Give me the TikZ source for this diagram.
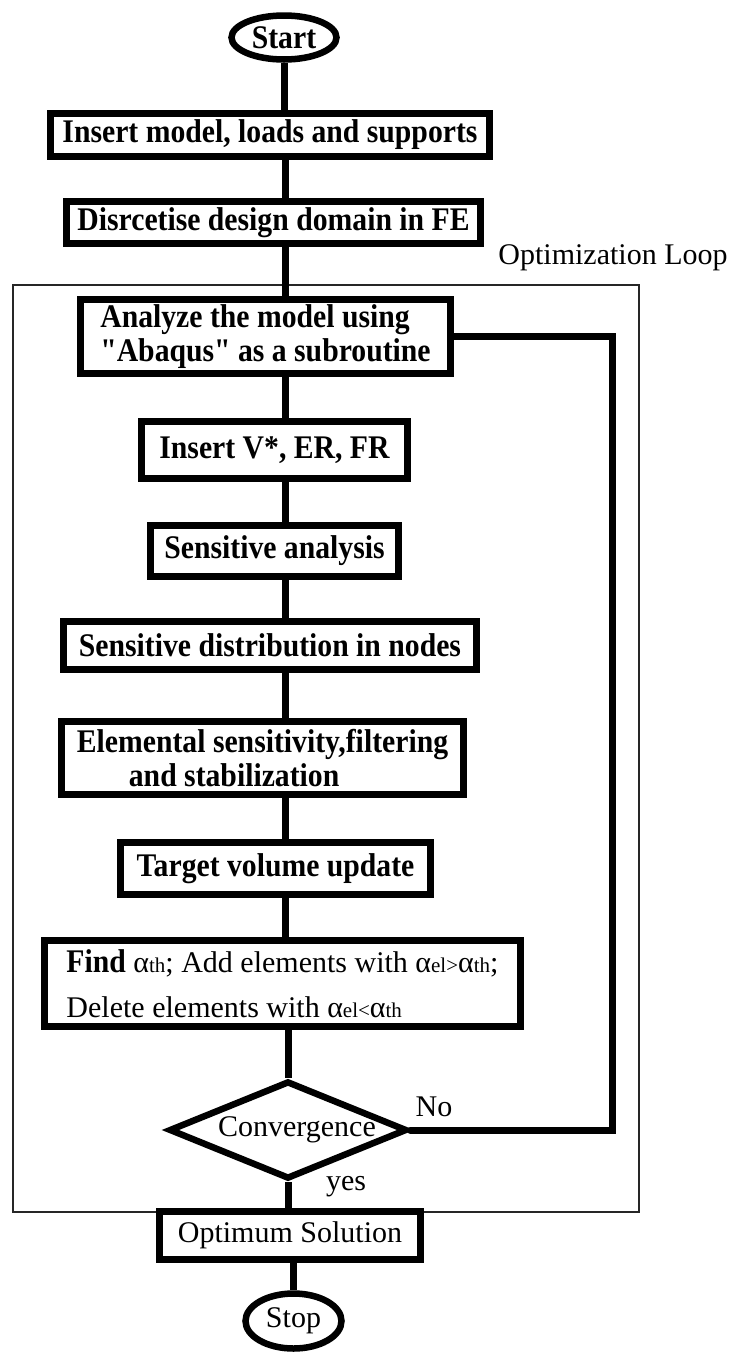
\documentclass[tikz,border=0pt]{standalone}
\usepackage{fontspec}
\setmainfont[BoldFeatures={FakeStretch=0.9}]{Liberation Serif}
\newfontfamily\qfont[BoldFeatures={FakeStretch=0.9}]{Liberation Serif}
\usetikzlibrary{shapes.geometric}
\newcommand{\agsub}[1]{α{\fontsize{21}{22}\selectfont #1}}
\newcommand{\bfbig}{\bfseries\fontsize{33}{34}\selectfont}
\newcommand{\sq}{{\qfont\bfseries "}}
\begin{document}
\begin{tikzpicture}[x=1pt,y=-1pt,
  txt/.style={font=\fontsize{30}{33}\selectfont, inner sep=0pt},
  box/.style={txt, draw, line width=7pt, fill=white, font=\bfbig},
  plainbox/.style={box, font=\fontsize{30}{33}\selectfont},
  term/.style={txt, ellipse, draw, line width=6.5pt, fill=white},
  decision/.style={txt, diamond, draw, line width=6.5pt, fill=white, line join=miter},
  conn/.style={line width=7pt},
  loopframe/.style={line width=1.3pt, black!85}
]
\useasboundingbox (0,0) rectangle (732,1353);

% optimization loop frame
\draw[loopframe] (13,285) rectangle (639,1212);
\node[txt] (looplbl) at (613,258) {Optimization Loop};

% nodes
\node[term, font=\bfbig, minimum width=105, minimum height=44] (start) at (284,37.5) {Start};
\node[box, minimum width=439, minimum height=43] (insert) at (270,135) {Insert model, loads and supports};
\node[box, minimum width=414, minimum height=42] (disc) at (273.5,222.5) {Disrcetise design domain in FE};
\node[box, minimum width=370, minimum height=74, align=left] (analyze) at (265.5,336.5) {Analyze the model using\\\sq Abaqus\sq{} as a subroutine};
\node[box, minimum width=266, minimum height=57] (insv) at (274.5,450) {Insert V*, ER, FR};
\node[box, minimum width=248, minimum height=51] (sens) at (274.5,551) {Sensitive analysis};
\node[box, minimum width=413, minimum height=48] (dist) at (270,645.5) {Sensitive distribution in nodes};
\node[box, minimum width=402, minimum height=73, align=left] (elem) at (262.5,758) {Elemental sensitivity,filtering\\\hspace*{52pt}and stabilization};
\node[box, minimum width=310, minimum height=52] (target) at (275.5,868.5) {Target volume update};
\node[plainbox, minimum width=476, minimum height=86, align=left] (find) at (282.5,983.5)
  {{\bfbig Find} \agsub{th}; Add elements with \agsub{el>}\agsub{th};\\[12pt]Delete elements with \agsub{el<}\agsub{th}};
\node[decision, minimum width=238, minimum height=98] (conv) at (288,1130) {};
\node[txt] (convtxt) at (297,1130) {Convergence};
\node[plainbox, minimum width=261, minimum height=48] (opt) at (290,1235.5) {Optimum Solution};
\node[term, minimum width=96, minimum height=55] (stop) at (293.5,1321) {Stop};

% labels
\node[txt] (nolbl) at (434,1107) {No};
\node[txt] (yeslbl) at (346,1187) {yes};

% connectors
\coordinate (spine) at (285,0);
\coordinate (fbx) at (612,0);
\draw[conn] (start.south) -- (start.south |- insert.north);
\draw[conn] (insert.south -| spine) -- (disc.north -| spine);
\draw[conn] (disc.south -| spine) -- (analyze.north -| spine);
\draw[conn] (analyze.south -| spine) -- (insv.north -| spine);
\draw[conn] (insv.south -| spine) -- (sens.north -| spine);
\draw[conn] (sens.south -| spine) -- (dist.north -| spine);
\draw[conn] (dist.south -| spine) -- (elem.north -| spine);
\draw[conn] (elem.south -| spine) -- (target.north -| spine);
\draw[conn] (target.south -| spine) -- (find.north -| spine);
\draw[conn] (find.south -| conv.north) -- (conv.north);
\draw[conn] (conv.south) -- (conv.south |- opt.north);
\draw[conn] (opt.south -| stop.north) -- (stop.north);
\draw[conn, line cap=round] (conv.east) -- (conv.east -| fbx) -- (analyze.east -| fbx) -- (analyze.east);
\end{tikzpicture}
\end{document}
